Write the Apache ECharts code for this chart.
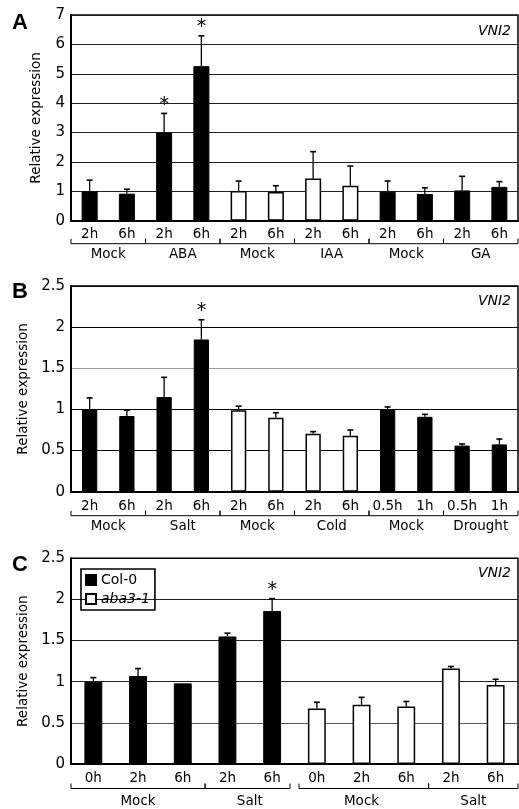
<!DOCTYPE html>
<html><head><meta charset="utf-8">
<script src="https://cdn.jsdelivr.net/npm/echarts@6.0.0/dist/echarts.min.js"></script>
<style>html,body{margin:0;padding:0;background:#fff}#c{width:519px;height:809px}</style>
</head><body><div id="c"></div>
<script>
// ---------- Panel A ----------
const timesA = ['2h','6h','2h','6h','2h','6h','2h','6h','2h','6h','2h','6h'];
const valuesA = [1.0, 0.92, 3.0, 5.26, 1.01, 0.98, 1.44, 1.19, 0.99, 0.91, 1.03, 1.15];
const errorsA = [0.38, 0.15, 0.65, 1.03, 0.34, 0.21, 0.91, 0.67, 0.36, 0.21, 0.48, 0.18];
const sigA = [0,0,1,1,0,0,0,0,0,0,0,0];
const fillA = ['k','k','k','k','w','w','w','w','k','k','k','k'];
const groupsA = [['Mock',0,1],['ABA',2,3],['Mock',4,5],['IAA',6,7],['Mock',8,9],['GA',10,11]];
const yTicksA = [0,1,2,3,4,5,6,7];

// ---------- Panel B ----------
const timesB = ['2h','6h','2h','6h','2h','6h','2h','6h','0.5h','1h','0.5h','1h'];
const valuesB = [1.0, 0.92, 1.15, 1.85, 0.99, 0.90, 0.705, 0.68, 1.0, 0.91, 0.56, 0.575];
const errorsB = [0.14, 0.07, 0.24, 0.24, 0.05, 0.06, 0.025, 0.07, 0.03, 0.03, 0.02, 0.065];
const sigB = [0,0,0,1,0,0,0,0,0,0,0,0];
const fillB = ['k','k','k','k','w','w','w','w','k','k','k','k'];
const groupsB = [['Mock',0,1],['Salt',2,3],['Mock',4,5],['Cold',6,7],['Mock',8,9],['Drought',10,11]];
const yTicksB = [0,0.5,1,1.5,2,2.5];

// ---------- Panel C ----------
const timesC = ['0h','2h','6h','2h','6h','0h','2h','6h','2h','6h'];
const genotypes = ['Col-0','aba3-1'];
const valuesCol = [1.0, 1.07, 0.98, 1.55, 1.86];
const errorsCol = [0.05, 0.09, 0.0, 0.04, 0.15];
const sigCol = [0,0,0,0,1];
const valuesAba = [0.675, 0.72, 0.70, 1.16, 0.96];
const errorsAba = [0.075, 0.09, 0.06, 0.025, 0.07];
const sigAba = [0,0,0,0,0];
const groupsC = [['Mock',0,2],['Salt',3,4],['Mock',5,7],['Salt',8,9]];
const breaksC = [5];
const yTicksC = [0,0.5,1,1.5,2,2.5];

const FONT = 'DejaVu Sans';

function errRender(params, api) {
  const i = api.value(0), v = api.value(1), e = api.value(2), s = api.value(3);
  const base = api.coord([i, v]), top = api.coord([i, v + e]);
  const ch = [];
  if (e > 0) {
    ch.push({type:'line', shape:{x1:base[0],y1:base[1],x2:top[0],y2:top[1]}, style:{stroke:'#000', lineWidth:1.3}});
    ch.push({type:'line', shape:{x1:top[0]-3,y1:top[1],x2:top[0]+3,y2:top[1]}, style:{stroke:'#000', lineWidth:1.6}});
  }
  if (s) ch.push({type:'text', x: top[0], y: top[1] + 1, style:{text:'*', fill:'#000', align:'center', verticalAlign:'bottom', font:'19px ' + FONT}});
  return {type:'group', children: ch};
}

function bracketRender(groups, breaks, off) {
  return function(params, api) {
    const g = groups[params.dataIndex];
    const s = g[1], e = g[2];
    const bw = api.size([1, 0])[0];
    const y0 = api.coord([0, 0])[1];
    let xl = api.coord([s, 0])[0] - bw / 2, xr = api.coord([e, 0])[0] + bw / 2;
    if (breaks.includes(s)) xl += 4.5;
    if (breaks.includes(e + 1)) xr -= 4.5;
    const cx = (api.coord([s, 0])[0] + api.coord([e, 0])[0]) / 2;
    const yl = y0 + off.line;
    const st = {stroke:'#000', lineWidth:1};
    return {type:'group', children:[
      {type:'line', shape:{x1:xl,y1:yl,x2:xr,y2:yl}, style:st},
      {type:'line', shape:{x1:xl,y1:yl,x2:xl,y2:yl-5}, style:st},
      {type:'line', shape:{x1:xr,y1:yl,x2:xr,y2:yl-5}, style:st},
      {type:'text', x:cx, y:y0 + off.label, style:{text:g[0], fill:'#000', align:'center', verticalAlign:'middle', font:'13.5px ' + FONT}}
    ]};
  };
}

function xAxisCfg(gi, times, margin) {
  return {
    type:'category', gridIndex:gi, data:times,
    axisLine:{lineStyle:{color:'#000', width:2}},
    axisTick:{inside:true, length:4, lineStyle:{color:'#000', width:1}},
    axisLabel:{interval:0, margin:margin, color:'#000', fontSize:13.5, fontFamily:FONT},
    splitLine:{show:false}
  };
}
function yAxisCfg(gi, ticks, colors) {
  return {
    type:'value', gridIndex:gi, min:ticks[0], max:ticks[ticks.length-1], interval:ticks[1]-ticks[0],
    axisLine:{show:true, lineStyle:{color:'#000', width:2}},
    axisTick:{show:false},
    axisLabel:{color:'#000', fontSize:15, fontFamily:FONT, margin:6},
    splitLine:{show:true, lineStyle:{color:colors, width:1}},
    name:'Relative expression', nameLocation:'middle', nameGap:28,
    nameTextStyle:{color:'#000', fontSize:13.5, fontFamily:FONT}
  };
}
function barData(vals, fills) {
  return vals.map((v, i) => ({value:v, itemStyle: fills[i] === 'k'
    ? {color:'#000', borderColor:'#000', borderWidth:1}
    : {color:'#fff', borderColor:'#000', borderWidth:1.5}}));
}
function errData(vals, errs, sigs, offset) {
  return vals.map((v, i) => [i + (offset || 0), v, errs[i], sigs[i]]);
}

const colData = timesC.map((t, i) => i < valuesCol.length ? valuesCol[i] : null);
const abaData = timesC.map((t, i) => i >= valuesCol.length ? valuesAba[i - valuesCol.length] : null);

const chart = echarts.init(document.getElementById('c'), null, {renderer:'canvas'});
const letterStyle = {fontSize:22, fontWeight:'bold', fontFamily:'Liberation Sans', color:'#000'};
const geneStyle = {fontSize:14, fontStyle:'italic', fontWeight:'normal', fontFamily:FONT, color:'#000'};
chart.setOption({
  animation:false,
  backgroundColor:'#fff',
  title:[
    {text:'A', left:12, top:12, padding:0, textStyle:letterStyle},
    {text:'B', left:12, top:281, padding:0, textStyle:letterStyle},
    {text:'C', left:12, top:554, padding:0, textStyle:letterStyle},
    {text:'VNI2', right:8, top:24, padding:0, textStyle:geneStyle},
    {text:'VNI2', right:8, top:294, padding:0, textStyle:geneStyle},
    {text:'VNI2', right:8, top:566, padding:0, textStyle:geneStyle}
  ],
  legend:{
    data:genotypes, orient:'vertical', left:81, top:569,
    borderColor:'#000', borderWidth:1.6, padding:[4,5,4,4], itemGap:5,
    itemWidth:10, itemHeight:10, icon:'rect',
    formatter: n => n === 'aba3-1' ? '{i|' + n + '}' : n,
    textStyle:{color:'#000', fontSize:14, fontFamily:FONT, rich:{i:{fontStyle:'italic', fontSize:14, fontFamily:FONT, color:'#000'}}}
  },
  grid:[
    {left:71, right:1, top:15, height:205.7, show:true, borderColor:'#000', borderWidth:1.5, backgroundColor:'transparent'},
    {left:71, right:1, top:286, height:205.7, show:true, borderColor:'#000', borderWidth:1.5, backgroundColor:'transparent'},
    {left:71, right:1, top:558.3, height:205.7, show:true, borderColor:'#000', borderWidth:1.5, backgroundColor:'transparent'}
  ],
  xAxis:[xAxisCfg(0, timesA, 6.5), xAxisCfg(1, timesB, 7.5), xAxisCfg(2, timesC, 7.5)],
  yAxis:[
    yAxisCfg(0, yTicksA, ['#222']),
    yAxisCfg(1, yTicksB, ['#000','#000','#000','#999','#000','#000']),
    yAxisCfg(2, yTicksC, ['#000','#555','#222','#222','#222','#000'])
  ],
  series:[
    {type:'bar', xAxisIndex:0, yAxisIndex:0, barWidth:'43%', data:barData(valuesA, fillA), z:3},
    {type:'custom', xAxisIndex:0, yAxisIndex:0, renderItem:errRender, data:errData(valuesA, errorsA, sigA), encode:{x:0, y:1}, z:4, clip:false},
    {type:'custom', xAxisIndex:0, yAxisIndex:0, renderItem:bracketRender(groupsA, [], {line:23, label:33.5}), data:groupsA.map(g => [g[1], 0]), encode:{x:0, y:1}, clip:false, silent:true},

    {type:'bar', xAxisIndex:1, yAxisIndex:1, barWidth:'41%', data:barData(valuesB, fillB), z:3},
    {type:'custom', xAxisIndex:1, yAxisIndex:1, renderItem:errRender, data:errData(valuesB, errorsB, sigB), encode:{x:0, y:1}, z:4, clip:false},
    {type:'custom', xAxisIndex:1, yAxisIndex:1, renderItem:bracketRender(groupsB, [], {line:24, label:35}), data:groupsB.map(g => [g[1], 0]), encode:{x:0, y:1}, clip:false, silent:true},

    {name:'Col-0', type:'bar', xAxisIndex:2, yAxisIndex:2, barWidth:'40%', barGap:'-100%', data:colData, itemStyle:{color:'#000', borderColor:'#000', borderWidth:1}, z:3},
    {name:'aba3-1', type:'bar', xAxisIndex:2, yAxisIndex:2, barWidth:'40%', barGap:'-100%', data:abaData, itemStyle:{color:'#fff', borderColor:'#000', borderWidth:1.5}, z:3},
    {type:'custom', xAxisIndex:2, yAxisIndex:2, renderItem:errRender, data:errData(valuesCol, errorsCol, sigCol).concat(errData(valuesAba, errorsAba, sigAba, valuesCol.length)), encode:{x:0, y:1}, z:4, clip:false},
    {type:'custom', xAxisIndex:2, yAxisIndex:2, renderItem:bracketRender(groupsC, breaksC, {line:24.5, label:37}), data:groupsC.map(g => [g[1], 0]), encode:{x:0, y:1}, clip:false, silent:true}
  ]
});
</script>
</body></html>
